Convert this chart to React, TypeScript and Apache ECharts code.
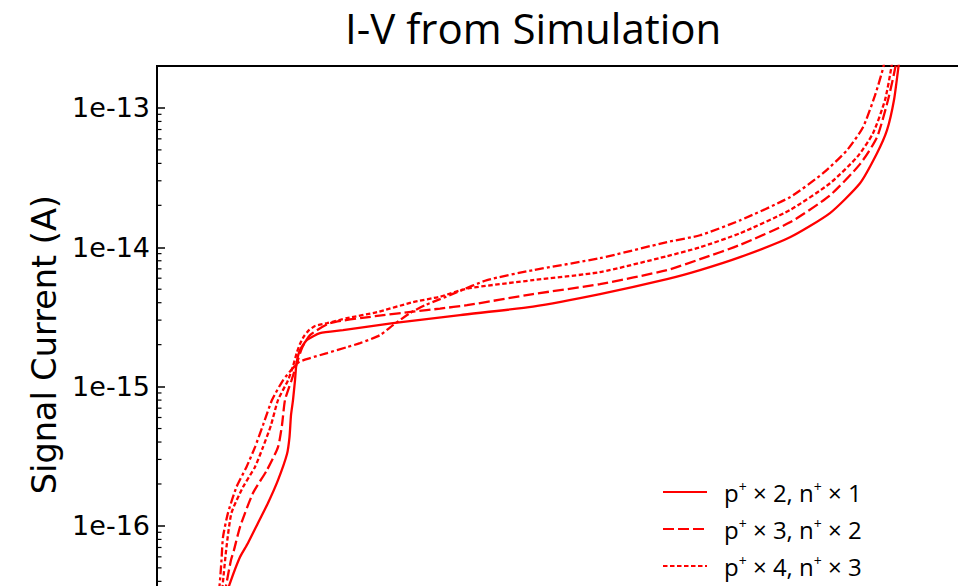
import React, { useEffect, useRef } from "react";
import * as echarts from "echarts";

// ---- Data (x: bias in V, y: signal current in A) ----
const TITLE = "I-V from Simulation";
const Y_NAME = "Signal Current (A)";
const SERIES_NAMES = ["p+ × 2, n+ × 1", "p+ × 3, n+ × 2", "p+ × 4, n+ × 3", "p+ × 5, n+ × 4"];

const s1X = [6.6, 7.3, 8.3, 9.1, 10.1, 11.1, 12.1, 13.0, 13.25, 13.4, 13.6, 13.8, 13.95, 14.3, 15.0, 16.3, 18.6, 23.6, 30.3, 37.6, 44.3, 51.0, 54.3, 58.3, 63.3, 67.3, 70.3, 72.0, 73.0, 73.7, 74.15, 74.4];
const s1Y = [2.71e-17, 3.89e-17, 5.98e-17, 7.54e-17, 1.05e-16, 1.46e-16, 2.13e-16, 3.28e-16, 4.34e-16, 6.24e-16, 8.0e-16, 1.11e-15, 1.47e-15, 1.83e-15, 2.16e-15, 2.42e-15, 2.54e-15, 2.85e-15, 3.26e-15, 3.75e-15, 4.61e-15, 5.9e-15, 6.85e-15, 8.49e-15, 1.18e-14, 1.76e-14, 2.88e-14, 4.73e-14, 6.92e-14, 1.14e-13, 1.99e-13, 2.82e-13];

const s2X = [6.5, 6.9, 7.4, 7.7, 8.3, 9.6, 11.0, 12.1, 12.5, 12.8, 13.45, 13.9, 14.5, 15.3, 17.3, 21.8, 25.6, 28.3, 31.0, 37.6, 44.3, 51.0, 54.3, 58.3, 63.3, 67.3, 70.3, 72.0, 73.1, 73.85, 74.1];
const s2Y = [2.49e-17, 3.71e-17, 5.69e-17, 6.72e-17, 9.82e-17, 1.72e-16, 2.52e-16, 3.68e-16, 5.29e-16, 8.0e-16, 1.11e-15, 1.4e-15, 1.89e-15, 2.34e-15, 2.85e-15, 3.2e-15, 3.45e-15, 3.63e-15, 3.84e-15, 4.61e-15, 5.44e-15, 6.85e-15, 8.21e-15, 1.04e-14, 1.51e-14, 2.36e-14, 3.95e-14, 6.16e-14, 1.14e-13, 1.99e-13, 2.82e-13];

const s3X = [6.2, 6.55, 6.95, 7.45, 8.6, 9.8, 10.6, 11.4, 12.1, 13.1, 13.6, 14.0, 14.3, 14.7, 15.2, 15.8, 17.0, 19.0, 22.0, 25.6, 28.3, 31.0, 37.6, 44.3, 51.0, 54.3, 58.3, 63.3, 67.3, 70.0, 71.6, 72.8, 73.45, 73.7];
const s3Y = [2.49e-17, 3.71e-17, 7.06e-17, 1.24e-16, 1.9e-16, 2.65e-16, 3.68e-16, 5.29e-16, 8.0e-16, 1.11e-15, 1.4e-15, 1.77e-15, 2.02e-15, 2.3e-15, 2.54e-15, 2.72e-15, 2.85e-15, 3.1e-15, 3.42e-15, 4.04e-15, 4.42e-15, 5.05e-15, 5.81e-15, 6.63e-15, 8.63e-15, 1.0e-14, 1.26e-14, 1.85e-14, 2.88e-14, 4.43e-14, 6.58e-14, 1.14e-13, 1.99e-13, 2.82e-13];

const s4X = [5.9, 6.25, 6.45, 6.6, 7.1, 7.95, 8.95, 9.8, 10.6, 11.5, 12.6, 13.4, 14.2, 15.3, 17.0, 19.0, 20.3, 22.3, 23.6, 25.3, 26.8, 28.3, 30.0, 33.0, 37.6, 44.3, 51.0, 54.3, 58.3, 63.3, 66.6, 69.0, 70.6, 71.8, 72.65, 72.9];
const s4Y = [2.49e-17, 3.71e-17, 5.69e-17, 8.32e-17, 1.24e-16, 1.9e-16, 2.65e-16, 3.68e-16, 5.29e-16, 8.0e-16, 1.11e-15, 1.31e-15, 1.5e-15, 1.6e-15, 1.74e-15, 1.92e-15, 2.05e-15, 2.34e-15, 2.76e-15, 3.37e-15, 3.84e-15, 4.24e-15, 4.76e-15, 5.81e-15, 6.85e-15, 8.35e-15, 1.09e-14, 1.22e-14, 1.56e-14, 2.29e-14, 3.4e-14, 4.97e-14, 7.27e-14, 1.23e-13, 1.99e-13, 2.82e-13];

// axis ranges
const X_MIN = 0;
const X_MAX = 90;
const Y_MIN = 2e-17;
const Y_MAX = 2e-13;
const DECADES = [-17, -16, -15, -14, -13];
const MINOR_MANTISSAS = [2, 3, 4, 5, 6, 7, 8, 9];

const zip = (xs: number[], ys: number[]) => xs.map((x, i) => [x, ys[i]]);

export default function App() {
  const ref = useRef<HTMLDivElement>(null);
  useEffect(() => {
    if (!ref.current) return;
    const chart = echarts.init(ref.current, null, { renderer: "svg" });
    const RED = "#ff0000";
    const dashes: any[] = ["solid", [11, 4], [4.5, 2.5], [9, 3, 3, 3]];
    const allX = [s1X, s2X, s3X, s4X];
    const allY = [s1Y, s2Y, s3Y, s4Y];

    const minorTicks: number[][] = [];
    DECADES.forEach((d) => {
      MINOR_MANTISSAS.forEach((m) => {
        const v = m * Math.pow(10, d);
        if (v > Y_MIN * 1.0001 && v < Y_MAX * 0.9999) minorTicks.push([X_MIN, v]);
      });
    });

    const lineSeries = SERIES_NAMES.map((name, i) => ({
      type: "line",
      name,
      data: zip(allX[i], allY[i]),
      symbol: "none",
      showSymbol: false,
      smooth: 0.2,
      clip: true,
      lineStyle: { color: RED, width: 2.3, type: dashes[i] },
      itemStyle: { color: RED },
      z: 2,
    }));

    const supFormat = (name: string) =>
      name
        .split("+")
        .map((part, i, arr) => (i < arr.length - 1 ? `{n|${part}}{sup|+}` : `{n|${part}}`))
        .join("");

    chart.setOption({
      animation: false,
      title: {
        text: TITLE,
        left: 340,
        top: 1,
        textStyle: { fontFamily: "Open Sans", fontSize: 42, fontWeight: "normal", color: "#000" },
      },
      legend: {
        orient: "vertical",
        left: 657,
        top: 474,
        itemWidth: 44,
        itemHeight: 14,
        itemGap: 12,
        data: SERIES_NAMES,
        formatter: supFormat,
        itemStyle: { opacity: 0 },
        textStyle: {
          fontFamily: "Open Sans",
          fontSize: 24,
          color: "#000",
          padding: [0, 0, 0, 12],
          rich: {
            n: { fontFamily: "Open Sans", fontSize: 24, color: "#000", lineHeight: 26 },
            sup: { fontFamily: "Open Sans", fontSize: 14, color: "#000", verticalAlign: "top", lineHeight: 26 },
          },
        },
      },
      grid: {
        left: 157,
        top: 66,
        right: 0,
        bottom: 76.7,
        show: true,
        borderColor: "#000",
        borderWidth: 2,
        containLabel: false,
      },
      xAxis: {
        type: "value",
        min: X_MIN,
        max: X_MAX,
        show: false,
      },
      yAxis: {
        type: "log",
        logBase: 10,
        min: Y_MIN,
        max: Y_MAX,
        name: Y_NAME,
        nameLocation: "middle",
        nameRotate: 90,
        nameGap: 95,
        nameTextStyle: { fontFamily: "DejaVu Sans", fontSize: 33.5, color: "#000" },
        axisLine: { show: true, lineStyle: { color: "#000", width: 2 } },
        axisTick: { show: true, inside: true, length: 8, lineStyle: { color: "#000", width: 1.5 } },
        minorTick: { show: false },
        splitLine: { show: false },
        axisLabel: {
          margin: 7,
          fontFamily: "DejaVu Sans",
          fontSize: 27,
          color: "#000",
          showMinLabel: false,
          showMaxLabel: false,
          formatter: (v: number) => {
            const e = Math.log10(v);
            const r = Math.round(e);
            return Math.abs(e - r) < 1e-6 ? "1e" + r : "";
          },
        },
      },
      series: [
        ...lineSeries,
        {
          type: "custom",
          name: "minorTicks",
          coordinateSystem: "cartesian2d",
          silent: true,
          data: minorTicks,
          z: 5,
          renderItem: (params: any, api: any) => {
            const p = api.coord([api.value(0), api.value(1)]);
            return {
              type: "line",
              shape: { x1: p[0], y1: p[1], x2: p[0] + 4.5, y2: p[1] },
              style: { stroke: "#000", lineWidth: 1.2 },
            };
          },
        },
      ],
    });
    return () => chart.dispose();
  }, []);
  return (
    <div
      style={{ position: "absolute", left: 0, top: 0, width: 958, height: 586, overflow: "hidden", background: "#fff" }}
    >
      <div ref={ref} style={{ width: 1057, height: 700 }} />
    </div>
  );
}
